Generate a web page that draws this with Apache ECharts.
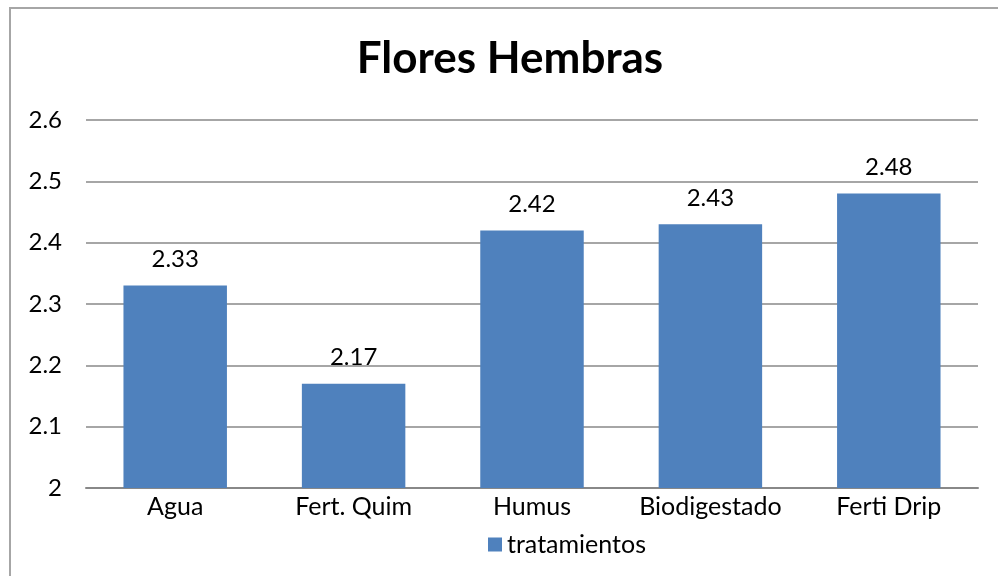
<!DOCTYPE html>
<html lang="es">
<head>
    <meta charset="UTF-8">
    <title>Flores Hembras</title>
    <script src="https://cdnjs.cloudflare.com/ajax/libs/echarts/6.0.0/echarts.min.js"></script>
    <style>
        html, body { margin: 0; padding: 0; background: #fff; overflow: hidden; }
        #frame {
            position: absolute; left: 9px; top: 7px; width: 1000px; height: 580px;
            border: 2px solid #a6a6a6; box-sizing: border-box;
        }
        #main { position: absolute; left: 0; top: 0; width: 998px; height: 576px; }
    </style>
</head>
<body>
    <div id="frame"></div>
    <div id="main"></div>
    <script>
        const categories = ["Agua", "Fert. Quim", "Humus", "Biodigestado", "Ferti Drip"];
        const values = [2.33, 2.17, 2.42, 2.43, 2.48];
        const seriesName = "tratamientos";

        const chart = echarts.init(document.getElementById('main'));
        const font = "Lato, 'Open Sans', sans-serif";

        chart.setOption({
            animation: false,
            title: {
                text: "Flores Hembras",
                left: 505, top: 32, textAlign: 'center',
                textStyle: { fontFamily: font, fontWeight: 'bold', fontSize: 44, color: '#000' }
            },
            legend: {
                data: [seriesName],
                bottom: 14, left: 483,
                itemWidth: 14, itemHeight: 14, itemGap: 6,
                icon: 'rect',
                textStyle: { fontFamily: font, fontSize: 25, color: '#000' }
            },
            grid: { left: 86, right: 20, top: 120, bottom: 88 },
            xAxis: {
                type: 'category',
                data: categories,
                axisLine: { lineStyle: { color: '#888', width: 2 } },
                axisTick: { show: false },
                axisLabel: { interval: 0, fontFamily: font, fontSize: 25, color: '#000', margin: 6 }
            },
            yAxis: {
                type: 'value',
                min: 2, max: 2.6, interval: 0.1,
                axisLine: { show: false },
                axisTick: { show: false },
                axisLabel: {
                    fontFamily: font, fontSize: 24, color: '#000', margin: 24,
                    formatter: v => String(Math.round(v * 10) / 10)
                },
                splitLine: { lineStyle: { color: '#888', width: 1.5 } }
            },
            series: [{
                name: seriesName,
                type: 'bar',
                data: values,
                barCategoryGap: '42%',
                itemStyle: { color: '#4f81bd' },
                label: {
                    show: true, position: 'top', distance: 14,
                    fontFamily: font, fontSize: 24, color: '#000',
                    formatter: p => p.value.toFixed(2)
                }
            }]
        });
    </script>
</body>
</html>
